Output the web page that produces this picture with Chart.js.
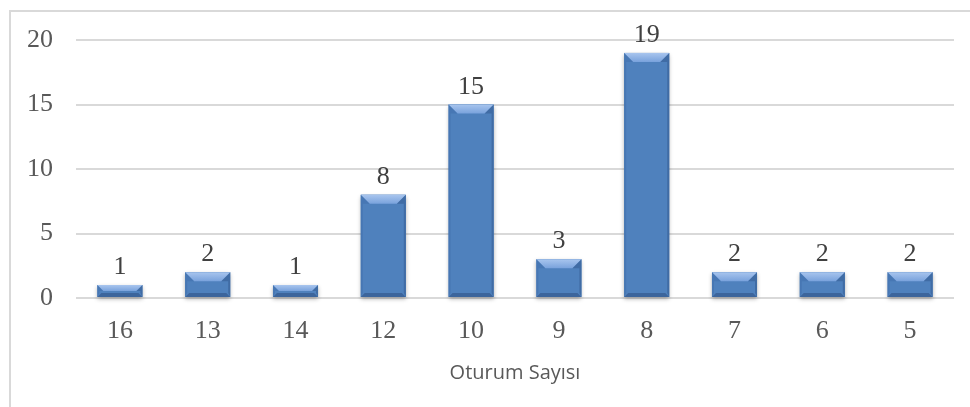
<!DOCTYPE html>
<html>
<head>
<meta charset="utf-8">
<script src="https://cdn.jsdelivr.net/npm/chart.js@4/dist/chart.umd.min.js"></script>
<style>
  html, body { margin: 0; padding: 0; background: #fff; overflow: hidden; }
  #wrap { position: relative; width: 970px; height: 407px; }
  #frame { position: absolute; left: 9px; top: 10px; width: 990px; height: 430px; border: 2px solid #d9d9d9; box-sizing: border-box; }
  canvas { position: absolute; left: 0; top: 0; }
</style>
</head>
<body>
<div id="wrap">
  <div id="frame"></div>
  <canvas id="c" width="970" height="407"></canvas>
</div>
<script>
const categories = ['16', '13', '14', '12', '10', '9', '8', '7', '6', '5'];
const values = [1, 2, 1, 8, 15, 3, 19, 2, 2, 2];
const yTicks = [0, 5, 10, 15, 20];
const xTitle = 'Oturum Sayısı';

const serif = '"Liberation Serif", "Times New Roman", serif';

function barGradient(ctx) {
  const el = ctx.element;
  const chart = ctx.chart;
  if (!el || el.x === undefined) return '#4f81bd';
  const half = el.width / 2;
  const g = chart.ctx.createLinearGradient(el.x - half, 0, el.x + half, 0);
  g.addColorStop(0, '#4273b4');
  g.addColorStop(0.5, '#5c8fd2');
  g.addColorStop(1, '#4273b4');
  return g;
}

const bevelPlugin = {
  id: 'bevel',
  beforeDatasetsDraw(chart) {
    const c = chart.ctx;
    chart.getDatasetMeta(0).data.forEach(el => {
      const w = el.width, x0 = el.x - w / 2, y0 = el.y, h = el.base - el.y;
      c.save();
      c.shadowColor = 'rgba(0,0,0,0.3)';
      c.shadowBlur = 4;
      c.shadowOffsetY = 2;
      c.fillStyle = '#4f81bd';
      c.fillRect(x0, y0, w, h);
      c.restore();
    });
  },
  afterDatasetsDraw(chart) {
    const c = chart.ctx;
    chart.getDatasetMeta(0).data.forEach(el => {
      const w = el.width, x0 = el.x - w / 2, x1 = el.x + w / 2, y0 = el.y, y1 = el.base;
      const h = y1 - y0;
      const b = Math.min(9, h / 2, w / 4);
      const bb = Math.min(4, h / 3);
      c.save();
      // top bevel (light)
      const tg = c.createLinearGradient(0, y0, 0, y0 + b);
      tg.addColorStop(0, '#a8c5ee');
      tg.addColorStop(1, '#79a2dc');
      c.fillStyle = tg;
      c.beginPath();
      c.moveTo(x0, y0); c.lineTo(x1, y0); c.lineTo(x1 - b, y0 + b); c.lineTo(x0 + b, y0 + b); c.closePath();
      c.fill();
      // left edge
      c.fillStyle = 'rgba(40,80,140,0.18)';
      c.beginPath();
      c.moveTo(x0, y0); c.lineTo(x0 + b, y0 + b); c.lineTo(x0 + 2, y0 + b); c.lineTo(x0 + 2, y1 - bb); c.lineTo(x0, y1); c.closePath();
      c.fill();
      // right edge
      c.fillStyle = 'rgba(30,60,110,0.3)';
      c.beginPath();
      c.moveTo(x1, y0); c.lineTo(x1 - b, y0 + b); c.lineTo(x1 - 2, y0 + b); c.lineTo(x1 - 2, y1 - bb); c.lineTo(x1, y1); c.closePath();
      c.fill();
      // bottom edge
      c.fillStyle = 'rgba(25,50,95,0.35)';
      c.beginPath();
      c.moveTo(x0, y1); c.lineTo(x0 + bb, y1 - bb); c.lineTo(x1 - bb, y1 - bb); c.lineTo(x1, y1); c.closePath();
      c.fill();
      c.restore();
    });
  }
};

const labelPlugin = {
  id: 'valueLabels',
  afterDatasetsDraw(chart) {
    const c = chart.ctx;
    const ds = chart.data.datasets[0];
    c.save();
    c.font = '26px ' + serif;
    c.fillStyle = '#404040';
    c.textAlign = 'center';
    c.textBaseline = 'alphabetic';
    chart.getDatasetMeta(0).data.forEach((el, i) => {
      c.fillText(String(ds.data[i]), el.x, el.y - 11);
    });
    c.restore();
  }
};

new Chart(document.getElementById('c'), {
  type: 'bar',
  data: {
    labels: categories,
    datasets: [{
      data: values,
      backgroundColor: barGradient,
      borderWidth: 0,
      barPercentage: 0.513,
      categoryPercentage: 1.0
    }]
  },
  options: {
    responsive: false,
    animation: false,
    devicePixelRatio: 1,
    layout: { padding: { left: 0, right: 16, top: 40, bottom: 0 } },
    plugins: { legend: { display: false }, tooltip: { enabled: false } },
    scales: {
      x: {
        grid: { display: false, drawTicks: false },
        border: { display: false },
        ticks: { color: '#595959', font: { family: serif, size: 26 }, padding: 18 },
        title: { display: true, text: xTitle, color: '#595959', font: { family: '"Open Sans", sans-serif', size: 20 }, padding: { top: 10, bottom: 22 } },
        afterFit(scale) { scale.height = 109; }
      },
      y: {
        min: 0, max: 20,
        afterBuildTicks(scale) { scale.ticks = yTicks.map(v => ({ value: v })); },
        grid: { color: '#d9d9d9', lineWidth: 2, drawTicks: false },
        border: { display: false },
        ticks: { color: '#595959', font: { family: serif, size: 26 }, padding: 23 },
        afterFit(scale) { scale.width = 76; }
      }
    }
  },
  plugins: [bevelPlugin, labelPlugin]
});
</script>
</body>
</html>
